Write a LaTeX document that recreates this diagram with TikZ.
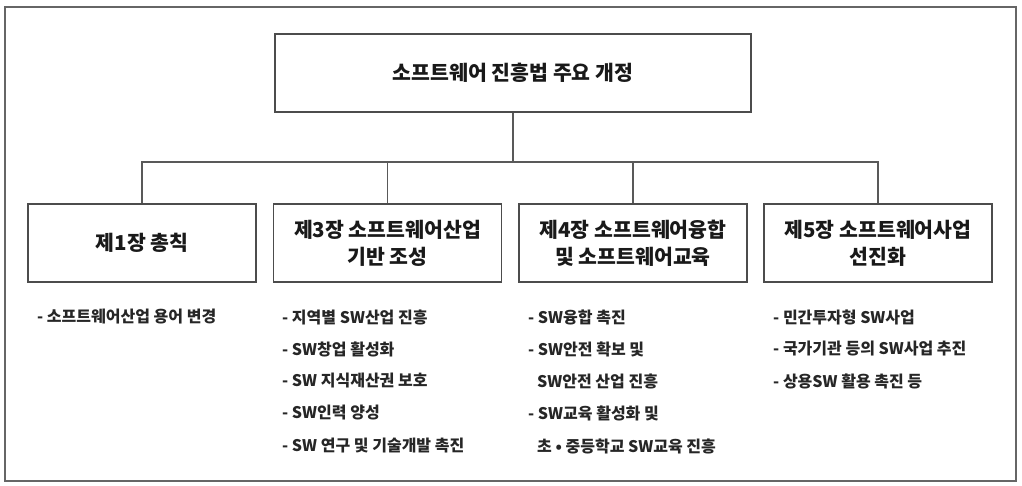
\documentclass[tikz,border=0pt]{standalone}
\usepackage{fontspec}
\newfontfamily\kr{Noto Sans CJK KR}
\begin{document}
\begin{tikzpicture}[x=1pt,y=-1pt,
  box/.style={draw=black!70,line width=1.3pt,minimum width=228pt,minimum height=78pt,inner sep=0pt,align=center,font=\kr\bfseries\fontsize{20.5}{27}\selectfont,text=black!90},
  item/.style={anchor=west,inner sep=0pt,font=\kr\bfseries\fontsize{16}{18}\selectfont,text=black!85},
  link/.style={draw=black!65,line width=1.3pt}]
\useasboundingbox (0,0) rectangle (1022,486);
\draw[draw=black!60,line width=1.3pt] (5,7) rectangle (1016,481);
\node[box,minimum width=476pt] (t) at (513,73) {소프트웨어 진흥법 주요 개정};
\node[box] (b1) at (142,243) {제1장 총칙};
\node[box] (b2) at (387.5,243) {제3장 소프트웨어산업\\기반 조성};
\node[box] (b3) at (633,243) {제4장 소프트웨어융합\\및 소프트웨어교육};
\node[box] (b4) at (878,243) {제5장 소프트웨어사업\\선진화};
\coordinate (j) at (513,162);
\draw[link] (t.south) -- (j);
\draw[link] (b1.north) |- (j);
\draw[link] (b4.north) |- (j);
\draw[link] (b2.north) -- (b2.north |- j);
\draw[link] (b3.north) -- (b3.north |- j);
\node[item] (i11) at (37,317) {- 소프트웨어산업 용어 변경};
\node[item] (i21) at (282,317) {- 지역별 SW산업 진흥};
\node[item] (i22) at (282,349) {- SW창업 활성화};
\node[item] (i23) at (282,381) {- SW 지식재산권 보호};
\node[item] (i24) at (282,413) {- SW인력 양성};
\node[item] (i25) at (282,446) {- SW 연구 및 기술개발 촉진};
\node[item] (i31) at (528,317) {- SW융합 촉진};
\node[item] (i32) at (528,349) {- SW안전 확보 및};
\node[item] (i33) at (537,381) {SW안전 산업 진흥};
\node[item] (i34) at (528,413) {- SW교육 활성화 및};
\node[item] (i35) at (537,446) {초 \textbullet{} 중등학교 SW교육 진흥};
\node[item] (i41) at (773,317) {- 민간투자형 SW사업};
\node[item] (i42) at (773,349) {- 국가기관 등의 SW사업 추진};
\node[item] (i43) at (773,381) {- 상용SW 활용 촉진 등};
\end{tikzpicture}
\end{document}
